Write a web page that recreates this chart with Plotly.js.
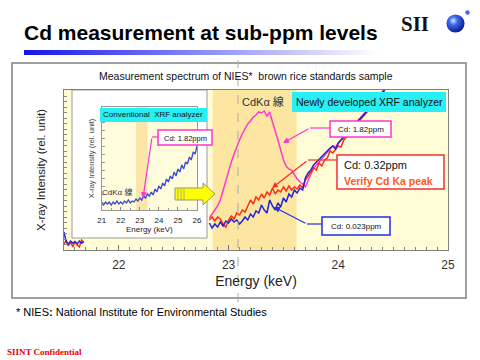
<!DOCTYPE html>
<html><head><meta charset="utf-8">
<script src="https://cdn.plot.ly/plotly-3.0.1.min.js"></script>
<style>html,body{margin:0;padding:0;background:#fff}#chart{width:480px;height:360px}</style>
</head><body><div id="chart"></div>
<script>
// ---- data ----
const mainEnergy = [22.825,22.85,22.875,22.9,22.925,22.95,22.975,23.0,23.025,23.05,23.075,23.1,23.125,23.15,23.175,23.2,23.225,23.25,23.275,23.3,23.325,23.35,23.375,23.4,23.425,23.45,23.475,23.5,23.525,23.55,23.575,23.6,23.625,23.65,23.675,23.7,23.725,23.75,23.775,23.8,23.825,23.85,23.875,23.9,23.925,23.95,23.975,24.0,24.025,24.05,24.075,24.1,24.125,24.15,24.175,24.2,24.225,24.25,24.275,24.3,24.325,24.35,24.375,24.4,24.425];
const cd182ppm = [32,36,40,44,50,60,70,80,88,96,104,110,116,121,126,129,133,135,138,137,139,134,138,128,120,110,100,90,84,81,80,75,71,68,66,63,70,76,82,85,88,92,95,98,100,104,103,107,110,112,116,120,124,126,129,131,134,137,140,143,147,150,154,158,162];
const cd032ppm = [30,33,29,33,31,26,23,30,34,31,37,35,40,38,44,50,46,53,50,56,52,58,55,62,56,60,58,63,59,64,60,63,61,65,62,70,74,78,82,80,87,84,90,92,99,97,101,104,103,110,113,117,121,124,127,130,133,136,139,142,145,149,153,156,160];
const cd0023ppm = [27,22,26,23,28,24,29,27,31,28,30,26,29,33,30,36,33,39,37,45,40,37,50,44,40,47,43,52,48,56,53,60,57,62,60,72,77,80,85,88,90,93,97,100,102,104,101,107,110,114,117,120,123,126,128,131,135,138,141,143,146,149,153,157,161];
const edgeEnergy = [21.5,21.52,21.54,21.56,21.58,21.6,21.62,21.64,21.66,21.68];
const edgeCd032 = [6,10,4,8,3,9,5,3,10,8];
const edgeCd0023 = [18,8,6,9,7,8,6,9,7,8];
const insetEnergy = [21.0,21.1,21.2,21.3,21.4,21.5,21.6,21.7,21.8,21.9,22.0,22.1,22.2,22.3,22.4,22.5,22.6,22.7,22.8,22.9,23.0,23.1,23.2,23.3,23.4,23.5,23.6,23.7,23.8,23.9,24.0,24.1,24.2,24.3,24.4,24.5,24.6,24.7,24.8,24.9,25.0,25.1,25.2,25.3,25.4,25.5,25.6,25.7,25.8,25.9,26.0];
const insetConventional = [7,5,8,6,8,5,8,6,9,6,8,6,9,7,10,7,9,8,11,9,12,10,14,12,16,14,18,15,21,18,24,21,27,24,31,28,34,31,38,34,41,38,45,41,48,46,53,50,58,56,64];
const cdBandMain = [22.855, 23.62];
const cdBandInset = [22.8, 23.4];

// ---- layout helpers (pixel -> paper) ----
const W = 480, H = 360;
const px = x => x / W;
const py = y => 1 - y / H;
const FONT = 'Liberation Sans, Arial, sans-serif';
const CJK = 'Liberation Sans, Noto Sans CJK JP, sans-serif';
const SERIF = 'Liberation Serif, Times New Roman, serif';

const traces = [
  {x: mainEnergy, y: cd182ppm, xaxis: 'x', yaxis: 'y', mode: 'lines', name: 'Cd: 1.82ppm',
   line: {color: '#FF3ACF', width: 1.5}},
  {x: edgeEnergy.concat([null], mainEnergy), y: edgeCd032.concat([null], cd032ppm), xaxis: 'x', yaxis: 'y', mode: 'lines', name: 'Cd: 0.32ppm',
   line: {color: '#FF2A10', width: 1.5}},
  {x: edgeEnergy.concat([null], mainEnergy), y: edgeCd0023.concat([null], cd0023ppm), xaxis: 'x', yaxis: 'y', mode: 'lines', name: 'Cd: 0.023ppm',
   line: {color: '#2222DD', width: 1.5}},
  {x: insetEnergy, y: insetConventional, xaxis: 'x2', yaxis: 'y2', mode: 'lines', name: 'Conventional',
   line: {color: '#3A48D0', width: 1.3}}
];

function rect(x0, y0, x1, y1, extra) {
  return Object.assign({type: 'rect', xref: 'paper', yref: 'paper',
    x0: px(x0), x1: px(x1), y0: py(y1), y1: py(y0)}, extra);
}
function seg(x0, y0, x1, y1, color, w) {
  return {type: 'line', xref: 'paper', yref: 'paper', x0: px(x0), y0: py(y0), x1: px(x1), y1: py(y1),
    line: {color: color, width: w || 1.2}};
}
function arrow(tipX, tipY, tailX, tailY, color) {
  return {xref: 'paper', yref: 'paper', x: px(tipX), y: py(tipY), ax: tailX - tipX, ay: tailY - tipY,
    text: '', showarrow: true, arrowhead: 2, arrowsize: 1, arrowwidth: 1.2, arrowcolor: color, standoff: 0};
}
function label(text, x, y, size, extra) {
  return Object.assign({xref: 'paper', yref: 'paper', x: px(x), y: py(y), text: text, showarrow: false,
    xanchor: 'center', yanchor: 'middle',
    font: {family: FONT, size: size, color: '#111'}}, extra);
}

const arrowPath = [[175,188],[203,188],[203,183],[215,194],[203,205],[203,200],[175,200]]
  .map((p, i) => (i ? 'L' : 'M') + px(p[0]) + ',' + py(p[1])).join(' ') + ' Z';

const shapes = [
  rect(12, 63, 466, 298, {fillcolor: '#fff', line: {color: '#808080', width: 1.5}, layer: 'below'}),
  rect(64, 90, 448, 250, {fillcolor: '#FFFCD6', line: {width: 0}, layer: 'below'}),
  {type: 'rect', xref: 'x', yref: 'paper', x0: cdBandMain[0], x1: cdBandMain[1], y0: py(250), y1: py(90),
   fillcolor: '#FCE6A2', line: {width: 0}, layer: 'below'},
  rect(72, 90, 207, 238, {fillcolor: '#fff', line: {color: '#9a9a9a', width: 1}, layer: 'below'}),
  rect(101.7, 107, 197, 210, {fillcolor: '#FFFCDC', line: {width: 0}, layer: 'below'}),
  {type: 'rect', xref: 'x2', yref: 'paper', x0: cdBandInset[0], x1: cdBandInset[1], y0: py(210), y1: py(107),
   fillcolor: '#FBE5A8', line: {width: 0}, layer: 'below'},
  // centre guide
  {type: 'line', xref: 'paper', yref: 'paper', x0: px(238), x1: px(238), y0: py(302), y1: py(60),
   line: {color: '#aaaaaa', width: 1, dash: 'dash'}},
  // yellow block arrow
  {type: 'path', xref: 'paper', yref: 'paper', path: arrowPath, fillcolor: '#FFFF00', line: {color: '#9a9a60', width: 1}},
  seg(178, 188, 178, 200, '#b0b060', 1), seg(181, 188, 181, 200, '#b0b060', 1), seg(184, 188, 184, 200, '#b0b060', 1),
  // label boxes
  rect(292, 92, 446, 112, {fillcolor: '#28EEF6', line: {width: 0}}),
  rect(330, 121, 391, 137, {fillcolor: '#fff', line: {color: '#FF33CC', width: 1.5}}),
  rect(337, 155, 444, 189, {fillcolor: '#fff', line: {color: '#F03030', width: 1.5}}),
  rect(322, 217, 390, 235, {fillcolor: '#fff', line: {color: '#2030E0', width: 1.5}}),
  rect(100, 108, 207, 122, {fillcolor: '#28EEF6', line: {width: 0}}),
  rect(158, 130, 212, 145, {fillcolor: '#fff', line: {color: '#FF33CC', width: 1.5}}),
  // elbow segments
  seg(330, 128, 310, 128, '#FF33CC'),
  seg(337, 160, 308, 160, '#F03030'),
  seg(322, 224, 307, 224, '#2030E0'),
  seg(158, 137, 152, 137, '#FF33CC')
];

const gradSvg = "<svg xmlns='http://www.w3.org/2000/svg' width='356' height='5'><defs><linearGradient id='g' x1='0' x2='1' y1='0' y2='0'><stop offset='0' stop-color='#1414EE'/><stop offset='0.45' stop-color='#8080F4'/><stop offset='1' stop-color='#ffffff'/></linearGradient></defs><rect width='356' height='5' fill='url(#g)'/></svg>";
const ballSvg = "<svg xmlns='http://www.w3.org/2000/svg' width='40' height='40'><defs><radialGradient id='b' cx='0.38' cy='0.35' r='0.65'><stop offset='0' stop-color='#dfe8ff'/><stop offset='0.35' stop-color='#3d6cf2'/><stop offset='1' stop-color='#0a1c8c'/></radialGradient></defs><circle cx='20' cy='20' r='19' fill='url(#b)'/></svg>";
const dotSvg = "<svg xmlns='http://www.w3.org/2000/svg' width='10' height='10'><circle cx='5' cy='5' r='4.5' fill='#3d6cf2'/></svg>";
const uri = s => 'data:image/svg+xml;charset=utf-8,' + encodeURIComponent(s);

const annotations = [
  label('Measurement spectrum of NIES*&nbsp; brown rice standards sample', 246, 76, 10.5),
  label('CdKα 線', 263, 102, 11, {font: {family: CJK, size: 11, color: '#333'}}),
  label('Newly developed XRF analyzer', 369, 102, 10.5),
  label('Cd: 1.82ppm', 360.5, 129, 8),
  label('Cd: 0.32ppm', 342, 165, 11, {xanchor: 'left'}),
  label('<b>Verify Cd Ka peak</b>', 342, 181, 10.5, {xanchor: 'left', font: {family: FONT, size: 10.5, color: '#FF5A14'}}),
  label('Cd: 0.023ppm', 356, 226, 8),
  label('Conventional&nbsp; XRF analyzer', 153, 115, 8),
  label('Cd: 1.82ppm', 185, 138, 7.5),
  label('CdKα 線', 117, 192, 8, {font: {family: CJK, size: 8, color: '#333'}}),
  label('* NIES<b>:</b> National Institute for Environmental Studies', 14, 312, 11, {xanchor: 'left', font: {family: FONT, size: 11, color: '#000'}}),
  label('<b>SIINT Confidential</b>', 5, 352, 9, {xanchor: 'left', font: {family: SERIF, size: 9, color: '#EE0000'}}),
  label('<b>SII</b>', 415, 24, 21, {font: {family: SERIF, size: 21, color: '#111'}}),
  arrow(283, 143, 310, 128, '#FF33CC'),
  arrow(272, 188, 308, 160, '#F03030'),
  arrow(274, 207, 307, 224, '#2030E0'),
  arrow(143, 198, 152, 137, '#FF33CC')
];

const layout = {
  width: W, height: H,
  margin: {l: 0, r: 0, t: 0, b: 0},
  paper_bgcolor: '#ffffff', plot_bgcolor: 'rgba(0,0,0,0)',
  showlegend: false,
  font: {family: FONT, color: '#222'},
  title: {text: '<b>Cd measurement at sub-ppm levels</b>', xref: 'paper', yref: 'paper', x: px(24), xanchor: 'left',
          y: py(33), yanchor: 'middle', font: {family: FONT, size: 21, color: '#000'}},
  xaxis: {domain: [px(64), px(448)], range: [21.5, 25], anchor: 'y', dtick: 1, tick0: 0,
          ticks: 'inside', ticklen: 5, tickcolor: '#777',
          minor: {dtick: 0.1, ticks: 'inside', ticklen: 3, tickcolor: '#888'},
          showline: true, linecolor: '#808080', mirror: true, showgrid: false, zeroline: false,
          tickfont: {family: FONT, size: 12, color: '#333'}, ticklabelstandoff: 4,
          title: {text: 'Energy (keV)', font: {family: FONT, size: 14, color: '#222'}, standoff: 4}},
  yaxis: {domain: [py(250), py(90)], range: [0, 160], anchor: 'x', showticklabels: false,
          ticks: 'inside', ticklen: 3, dtick: 5.5, tick0: 0, tickcolor: '#888',
          showline: true, linecolor: '#808080', mirror: true, showgrid: false, zeroline: false,
          title: {text: 'X-ray Intensity (rel. unit)', font: {family: FONT, size: 11.5, color: '#222'}, standoff: 14}},
  xaxis2: {domain: [px(101.7), px(197)], range: [21, 26], anchor: 'y2', dtick: 1, tick0: 0,
           ticks: 'inside', ticklen: 3, tickcolor: '#888',
           minor: {dtick: 0.5, ticks: 'inside', ticklen: 2, tickcolor: '#999'},
           showline: true, linecolor: '#999', mirror: true, showgrid: false, zeroline: false,
           tickfont: {family: FONT, size: 8, color: '#222'}, ticklabelstandoff: 2,
           title: {text: 'Energy (keV)', font: {family: FONT, size: 8, color: '#222'}, standoff: 2}},
  yaxis2: {domain: [py(210), py(107)], range: [0, 103], anchor: 'x2', showticklabels: false,
           ticks: 'inside', ticklen: 3, dtick: 8, tick0: 0, tickcolor: '#999',
           showline: true, linecolor: '#999', mirror: true, showgrid: false, zeroline: false,
           title: {text: 'X-ray Intensity (rel. unit)', font: {family: FONT, size: 7.5, color: '#444'}, standoff: 5}},
  shapes: shapes,
  annotations: annotations,
  images: [
    {source: uri(gradSvg), xref: 'paper', yref: 'paper', x: px(24), y: py(50), sizex: px(356), sizey: 5 / H,
     xanchor: 'left', yanchor: 'top', sizing: 'stretch', layer: 'above'},
    {source: uri(ballSvg), xref: 'paper', yref: 'paper', x: px(446), y: py(14), sizex: 19 / W, sizey: 19 / H,
     xanchor: 'left', yanchor: 'top', sizing: 'stretch', layer: 'above'},
    {source: uri(dotSvg), xref: 'paper', yref: 'paper', x: px(465), y: py(10), sizex: 5 / W, sizey: 5 / H,
     xanchor: 'left', yanchor: 'top', sizing: 'stretch', layer: 'above'}
  ]
};

Plotly.newPlot('chart', traces, layout, {staticPlot: true, displayModeBar: false});
</script>
</body></html>
